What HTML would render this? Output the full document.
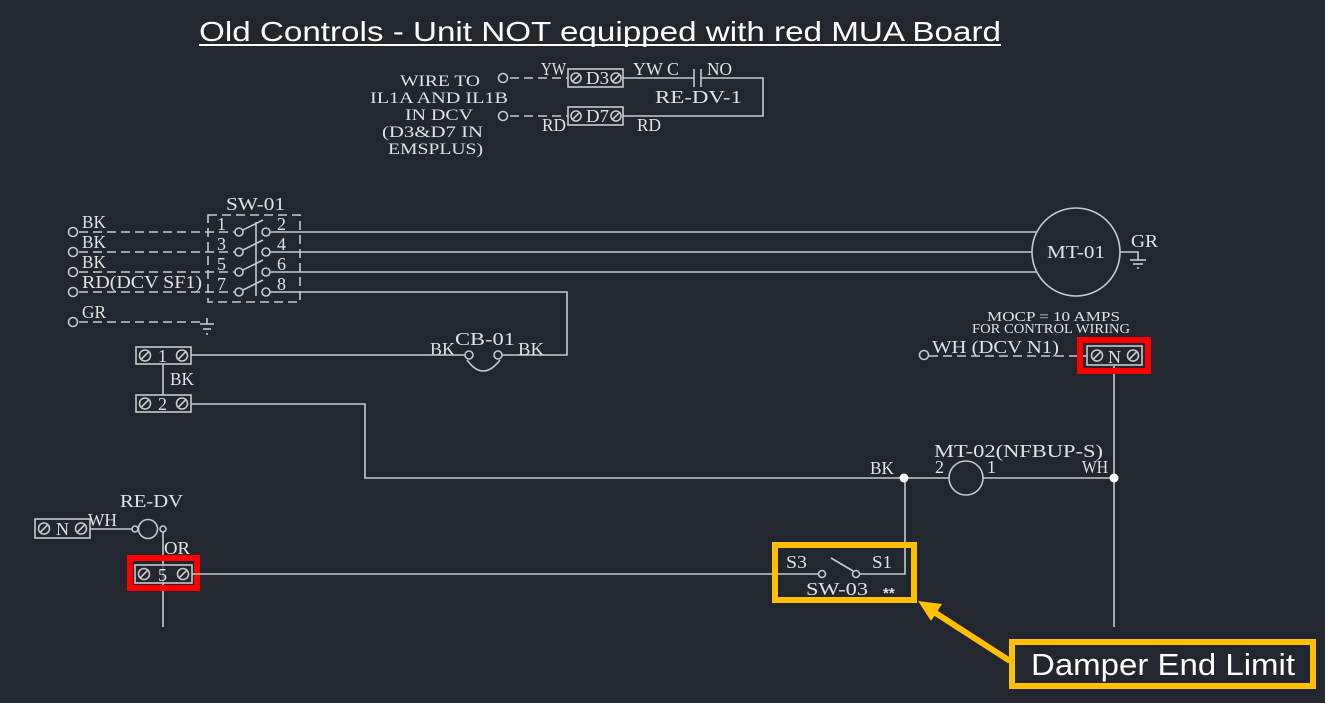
<!DOCTYPE html>
<html>
<head>
<meta charset="utf-8">
<style>
html,body{margin:0;padding:0;background:#22262e;}
svg{display:block;}
.t{font-family:"Liberation Serif",serif;fill:#e2e2e2;}
.l{stroke:#c8c8c8;stroke-width:1.6;fill:none;}
.d{stroke:#c8c8c8;stroke-width:1.6;fill:none;stroke-dasharray:9,5;}
</style>
</head>
<body>
<svg width="1325" height="703" viewBox="0 0 1325 703" xmlns="http://www.w3.org/2000/svg">
<rect x="0" y="0" width="1325" height="703" fill="#22262e"/>

<!-- Title -->
<text x="199" y="41" font-family="Liberation Sans, sans-serif" font-size="28" fill="#ffffff" textLength="802" lengthAdjust="spacingAndGlyphs">Old Controls - Unit  NOT equipped with red MUA Board</text>
<line x1="199" y1="45" x2="1001" y2="45" stroke="#ffffff" stroke-width="2"/>

<!-- Top relay block -->
<g class="t" font-size="16">
<text x="400" y="86" textLength="80" lengthAdjust="spacingAndGlyphs">WIRE TO</text>
<text x="370" y="103" textLength="138" lengthAdjust="spacingAndGlyphs">IL1A AND IL1B</text>
<text x="405" y="120" textLength="68" lengthAdjust="spacingAndGlyphs">IN DCV</text>
<text x="382" y="137" textLength="101" lengthAdjust="spacingAndGlyphs">(D3&amp;D7 IN</text>
<text x="388" y="154" textLength="95" lengthAdjust="spacingAndGlyphs">EMSPLUS)</text>
</g>
<g class="t" font-size="18">
<text x="541" y="75" textLength="25" lengthAdjust="spacingAndGlyphs">YW</text>
<text x="633" y="75" textLength="46" lengthAdjust="spacingAndGlyphs">YW C</text>
<text x="707" y="75" textLength="25" lengthAdjust="spacingAndGlyphs">NO</text>
<text x="655" y="103" textLength="87" lengthAdjust="spacingAndGlyphs">RE-DV-1</text>
<text x="542" y="131" textLength="24" lengthAdjust="spacingAndGlyphs">RD</text>
<text x="637" y="131" textLength="24" lengthAdjust="spacingAndGlyphs">RD</text>
<text x="586" y="84" textLength="23" lengthAdjust="spacingAndGlyphs">D3</text>
<text x="586" y="122" textLength="23" lengthAdjust="spacingAndGlyphs">D7</text>
</g>
<circle class="l" cx="503" cy="78" r="4.5"/>
<circle class="l" cx="503" cy="116" r="4.5"/>
<line class="d" x1="510" y1="78" x2="568" y2="78" stroke-dasharray="11,7"/>
<line class="d" x1="510" y1="116" x2="568" y2="116" stroke-dasharray="11,7"/>
<rect class="l" x="568" y="69" width="55" height="18"/>
<rect class="l" x="568" y="107" width="55" height="18"/>
<circle class="l" cx="576" cy="78" r="5"/><line class="l" x1="572.5" y1="81.5" x2="579.5" y2="74.5"/>
<circle class="l" cx="616" cy="78" r="5"/><line class="l" x1="612.5" y1="81.5" x2="619.5" y2="74.5"/>
<circle class="l" cx="576" cy="116" r="5"/><line class="l" x1="572.5" y1="119.5" x2="579.5" y2="112.5"/>
<circle class="l" cx="616" cy="116" r="5"/><line class="l" x1="612.5" y1="119.5" x2="619.5" y2="112.5"/>
<polyline class="l" points="623,78 694,78"/>
<line class="l" x1="694" y1="69" x2="694" y2="87"/>
<line class="l" x1="701" y1="69" x2="701" y2="87"/>
<polyline class="l" points="701,78 763,78 763,116 623,116"/>

<!-- SW-01 block -->
<g class="t" font-size="18">
<text x="226" y="210" textLength="59" lengthAdjust="spacingAndGlyphs">SW-01</text>
<text x="82" y="228" textLength="24" lengthAdjust="spacingAndGlyphs">BK</text>
<text x="82" y="248" textLength="24" lengthAdjust="spacingAndGlyphs">BK</text>
<text x="82" y="268" textLength="24" lengthAdjust="spacingAndGlyphs">BK</text>
<text x="82" y="288" textLength="120" lengthAdjust="spacingAndGlyphs">RD(DCV SF1)</text>
<text x="82" y="318" textLength="24" lengthAdjust="spacingAndGlyphs">GR</text>
<text x="217" y="230">1</text>
<text x="217" y="250">3</text>
<text x="217" y="270">5</text>
<text x="217" y="290">7</text>
<text x="277" y="230">2</text>
<text x="277" y="250">4</text>
<text x="277" y="270">6</text>
<text x="277" y="290">8</text>
</g>
<circle class="l" cx="73" cy="232" r="4.5"/>
<circle class="l" cx="73" cy="252" r="4.5"/>
<circle class="l" cx="73" cy="272" r="4.5"/>
<circle class="l" cx="73" cy="292" r="4.5"/>
<circle class="l" cx="73" cy="322" r="4.5"/>
<line class="d" x1="79" y1="232" x2="235" y2="232"/>
<line class="d" x1="79" y1="252" x2="235" y2="252"/>
<line class="d" x1="79" y1="272" x2="235" y2="272"/>
<line class="d" x1="79" y1="292" x2="235" y2="292"/>
<line class="d" x1="79" y1="322" x2="200" y2="322"/>
<line class="l" x1="207" y1="318" x2="207" y2="324"/>
<line class="l" x1="200" y1="324" x2="214" y2="324"/>
<line class="l" x1="203" y1="329" x2="211" y2="329"/>
<line class="l" x1="206" y1="334" x2="208" y2="334"/>
<rect class="d" x="208" y="215" width="92" height="87" stroke-dasharray="8,5"/>
<line class="l" x1="256" y1="222" x2="256" y2="296"/>
<g class="l">
<circle cx="239" cy="232" r="4"/><circle cx="266" cy="232" r="4"/>
<circle cx="239" cy="252" r="4"/><circle cx="266" cy="252" r="4"/>
<circle cx="239" cy="272" r="4"/><circle cx="266" cy="272" r="4"/>
<circle cx="239" cy="292" r="4"/><circle cx="266" cy="292" r="4"/>
<line x1="243" y1="230" x2="263" y2="220"/>
<line x1="243" y1="250" x2="263" y2="240"/>
<line x1="243" y1="270" x2="263" y2="260"/>
<line x1="243" y1="290" x2="263" y2="280"/>
</g>
<line class="l" x1="270" y1="232" x2="1037" y2="232"/>
<line class="l" x1="270" y1="252" x2="1032" y2="252"/>
<line class="l" x1="270" y1="272" x2="1037" y2="272"/>
<polyline class="l" points="270,292 567,292 567,355 502,355"/>

<!-- MT-01 -->
<circle class="l" cx="1076" cy="252" r="44"/>
<text class="t" x="1047" y="258" font-size="18" textLength="58" lengthAdjust="spacingAndGlyphs">MT-01</text>
<text class="t" x="1131" y="247" font-size="18" textLength="27" lengthAdjust="spacingAndGlyphs">GR</text>
<polyline class="l" points="1120,252 1138,252 1138,260"/>
<line class="l" x1="1130" y1="260" x2="1146" y2="260"/>
<line class="l" x1="1133" y1="264" x2="1143" y2="264"/>
<line class="l" x1="1137" y1="268" x2="1139" y2="268"/>

<!-- CB-01 and terminals 1,2 -->
<g class="t" font-size="18">
<text x="430" y="355" textLength="25" lengthAdjust="spacingAndGlyphs">BK</text>
<text x="455" y="345" textLength="60" lengthAdjust="spacingAndGlyphs">CB-01</text>
<text x="518" y="355" textLength="26" lengthAdjust="spacingAndGlyphs">BK</text>
<text x="170" y="385" textLength="24" lengthAdjust="spacingAndGlyphs">BK</text>
<text x="158" y="362">1</text>
<text x="158" y="410">2</text>
</g>
<line class="l" x1="191" y1="355" x2="465" y2="355"/>
<circle class="l" cx="469" cy="355" r="4"/>
<circle class="l" cx="498" cy="355" r="4"/>
<path class="l" d="M467,360 Q483,382 500,360"/>
<rect class="l" x="136" y="347" width="55" height="17"/>
<rect class="l" x="136" y="395" width="55" height="17"/>
<g class="l">
<circle cx="145" cy="355.5" r="5.5"/><line x1="141" y1="359.5" x2="149" y2="351.5"/>
<circle cx="182" cy="355.5" r="5.5"/><line x1="178" y1="359.5" x2="186" y2="351.5"/>
<circle cx="145" cy="403.5" r="5.5"/><line x1="141" y1="407.5" x2="149" y2="399.5"/>
<circle cx="182" cy="403.5" r="5.5"/><line x1="178" y1="407.5" x2="186" y2="399.5"/>
</g>
<line class="l" x1="163" y1="364" x2="163" y2="395"/>
<polyline class="l" points="191,404 365,404 365,478 904,478"/>

<!-- MT-02 -->
<g class="t" font-size="18">
<text x="934" y="457" textLength="169" lengthAdjust="spacingAndGlyphs">MT-02(NFBUP-S)</text>
<text x="935" y="473">2</text>
<text x="987" y="473">1</text>
<text x="870" y="474" textLength="24" lengthAdjust="spacingAndGlyphs">BK</text>
<text x="1082" y="473" textLength="26" lengthAdjust="spacingAndGlyphs">WH</text>
</g>
<circle class="l" cx="966" cy="478" r="17"/>
<line class="l" x1="904" y1="478" x2="949" y2="478"/>
<line class="l" x1="983" y1="478" x2="1114" y2="478"/>
<polyline class="l" points="905,478 905,574 860,574"/>
<line class="l" x1="1114" y1="366" x2="1114" y2="627"/>
<circle cx="904" cy="478" r="4.5" fill="#ffffff"/>
<circle cx="1114" cy="478" r="4.5" fill="#ffffff"/>

<!-- N terminal top right -->
<g class="t">
<text x="987" y="321" font-size="14" textLength="133" lengthAdjust="spacingAndGlyphs">MOCP = 10 AMPS</text>
<text x="972" y="333" font-size="14" textLength="158" lengthAdjust="spacingAndGlyphs">FOR CONTROL WIRING</text>
<text x="932" y="353" font-size="18" textLength="127" lengthAdjust="spacingAndGlyphs">WH (DCV N1)</text>
<text x="1108" y="363" font-size="18">N</text>
</g>
<circle class="l" cx="924" cy="355" r="4.5"/>
<line class="d" x1="929" y1="356" x2="1087" y2="356" stroke-dasharray="10,6"/>
<rect class="l" x="1087" y="346" width="55" height="19"/>
<g class="l">
<circle cx="1097" cy="355.5" r="5.5"/><line x1="1093" y1="359.5" x2="1101" y2="351.5"/>
<circle cx="1133" cy="355.5" r="5.5"/><line x1="1129" y1="359.5" x2="1137" y2="351.5"/>
</g>
<rect x="1080" y="340" width="68" height="31" fill="none" stroke="#ff0000" stroke-width="6"/>

<!-- Bottom left RE-DV -->
<g class="t" font-size="18">
<text x="120" y="507" textLength="63" lengthAdjust="spacingAndGlyphs">RE-DV</text>
<text x="88" y="526" textLength="29" lengthAdjust="spacingAndGlyphs">WH</text>
<text x="164" y="554" textLength="26" lengthAdjust="spacingAndGlyphs">OR</text>
<text x="56" y="535">N</text>
</g>
<rect class="l" x="35" y="519" width="55" height="19"/>
<g class="l">
<circle cx="44" cy="528.5" r="5.5"/><line x1="40" y1="532.5" x2="48" y2="524.5"/>
<circle cx="81" cy="528.5" r="5.5"/><line x1="77" y1="532.5" x2="85" y2="524.5"/>
</g>
<line class="l" x1="90" y1="529" x2="132" y2="529"/>
<circle class="l" cx="135" cy="529" r="3"/>
<circle class="l" cx="148" cy="529" r="9.5"/>
<circle class="l" cx="163" cy="529" r="3"/>
<line class="l" x1="163" y1="532" x2="163" y2="627"/>
<rect x="135" y="565" width="57" height="18" fill="#22262e" stroke="#c8c8c8" stroke-width="1.6"/>
<line x1="163" y1="565" x2="163" y2="583" stroke="#c8c8c8" stroke-width="1" opacity="0.5"/>
<g class="l">
<circle cx="144" cy="574" r="5.5"/><line x1="140" y1="578" x2="148" y2="570"/>
<circle cx="183" cy="574" r="5.5"/><line x1="179" y1="578" x2="187" y2="570"/>
</g>
<text class="t" x="158" y="581" font-size="18">5</text>
<rect x="130" y="558" width="67" height="30" fill="none" stroke="#ff0000" stroke-width="6"/>
<line class="l" x1="192" y1="574" x2="818" y2="574"/>

<!-- SW-03 -->
<circle class="l" cx="822" cy="574" r="3.5"/>
<circle class="l" cx="856" cy="574" r="3.5"/>
<line class="l" x1="853" y1="571" x2="831" y2="558"/>
<g class="t" font-size="18">
<text x="786" y="568" textLength="21" lengthAdjust="spacingAndGlyphs">S3</text>
<text x="872" y="568" textLength="20" lengthAdjust="spacingAndGlyphs">S1</text>
<text x="806" y="595" textLength="62" lengthAdjust="spacingAndGlyphs">SW-03</text>
<text x="883" y="598" font-size="15" font-family="Liberation Sans, sans-serif" font-weight="bold">**</text>
</g>
<rect x="775" y="545" width="139" height="55" fill="none" stroke="#ffc000" stroke-width="6"/>

<!-- Callout -->
<line x1="1010" y1="661" x2="934" y2="612" stroke="#ffc000" stroke-width="6"/>
<polygon points="918,601 931,621 942,604" fill="#ffc000"/>
<rect x="1012" y="642" width="301" height="44" fill="#22262e" stroke="#ffc000" stroke-width="6"/>
<text x="1031" y="675" font-family="Liberation Sans, sans-serif" font-size="31" fill="#ffffff" textLength="264" lengthAdjust="spacingAndGlyphs">Damper End Limit</text>
</svg>
</body>
</html>
